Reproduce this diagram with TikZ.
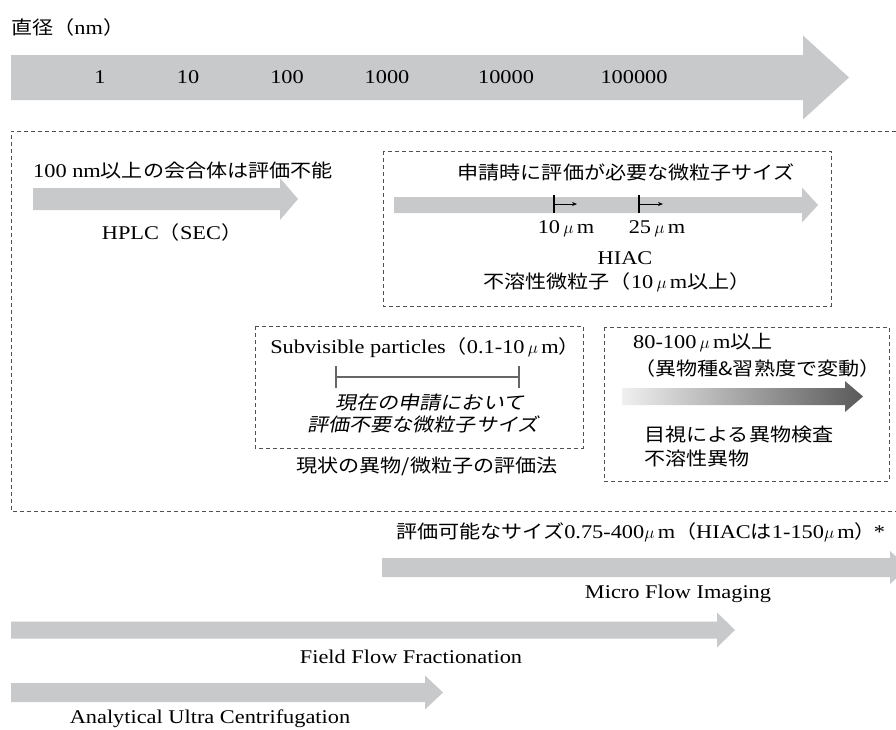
\documentclass[tikz,border=0pt]{standalone}
\usepackage{fontspec}
\setmainfont[Scale=1.05,FakeStretch=1.15]{Liberation Serif}
\newfontfamily\jpf[FakeStretch=1.14]{Noto Sans CJK JP}
\newfontfamily\jpif[FakeStretch=1.14,FakeSlant=0.2]{Noto Sans CJK JP}
\newcommand{\jt}[1]{{\jpf #1}}
\newcommand{\umu}{\,$\mu$\,m}
\newcommand{\umn}{$\mu$\,m}
\usetikzlibrary{arrows.meta}
\definecolor{arrgray}{HTML}{C8C9CB}
\definecolor{dashgray}{HTML}{505050}
\tikzset{
  lbl/.style={inner sep=0pt, font=\fontsize{18.5}{22}\selectfont},
  dbox/.style={draw=dashgray, line width=0.9pt, dash pattern=on 4pt off 3pt},
}
% x1, head start, tip, yc, shaft half, head half
\newcommand{\fatarrow}[6]{\fill[arrgray] (#1,#4-#5) -- (#2,#4-#5) -- (#2,#4-#6) -- (#3,#4) -- (#2,#4+#6) -- (#2,#4+#5) -- (#1,#4+#5) -- cycle;}
\begin{document}
\begin{tikzpicture}[x=1pt,y=-1pt]
\useasboundingbox (0,0) rectangle (896,729);
\fill[white] (0,0) rectangle (896,729);

% title and scale arrow
\node[lbl,anchor=west] (title) at (11,27) {\jt{直径（}nm\jt{）}};
\fatarrow{11}{803}{849}{77.5}{22.5}{42}
\node[lbl] (n1) at (100,77) {1};
\node[lbl] (n10) at (188,77) {10};
\node[lbl] (n100) at (287,77) {100};
\node[lbl] (n1000) at (387,77) {1000};
\node[lbl] (n10000) at (506,77) {10000};
\node[lbl] (n100000) at (634,77) {100000};

% big dashed frame
\draw[dbox] (896,131) -- (11,131) -- (11,511) -- (896,511);

% HPLC
\node[lbl,anchor=west] (hplct) at (33,170) {100 nm\jt{以上の会合体は評価不能}};
\fatarrow{33}{280}{298}{199}{11}{21}
\node[lbl] (hplc) at (172,232) {HPLC\jt{（}SEC\jt{）}};

% HIAC box
\draw[dbox] (383,151) rectangle (831,306);
\node[lbl] (hiact) at (626,172) {\jt{申請時に評価が必要な微粒子サイズ}};
\fatarrow{394}{802}{818}{205}{8}{17.5}
\coordinate (t1a) at (554,195); \coordinate (t1b) at (554,213);
\coordinate (t1s) at (554,204); \coordinate (t1e) at (577,204);
\coordinate (t2a) at (639,195); \coordinate (t2b) at (639,213);
\coordinate (t2s) at (639,204); \coordinate (t2e) at (663,204);
\draw[line width=2.4pt] (t1a) -- (t1b);
\draw[line width=2.4pt] (t2a) -- (t2b);
\draw[line width=0.8pt,-{Stealth[length=5pt,width=4pt]}] (t1s) -- (t1e);
\draw[line width=0.8pt,-{Stealth[length=5pt,width=4pt]}] (t2s) -- (t2e);
\node[lbl] (u10) at (566,229) {10\umu};
\node[lbl] (u25) at (657,229) {25\umu};
\node[lbl] (hiac) at (625,258) {HIAC};
\node[lbl] (hiacs) at (617,282) {\jt{不溶性微粒子（}10\umu\jt{以上）}};

% Subvisible box
\draw[dbox] (255,326) rectangle (583,448);
\node[lbl] (subt) at (425,348) {Subvisible particles\jt{（}0.1-10\umu\jt{）}};
\coordinate (sva) at (336,377); \coordinate (svb) at (519,377);
\draw[gray!80!black,line width=1.1pt] (sva) -- (svb);
\draw[gray!80!black,line width=1.1pt] (336,366) -- (336,388);
\draw[gray!80!black,line width=1.1pt] (519,366) -- (519,388);
\node[lbl] (sv1) at (430,403) {\jpif 現在の申請において};
\node[lbl] (sv2) at (423,424) {\jpif 評価不要な微粒子サイズ};
\node[lbl] (cur) at (427,466) {\jt{現状の異物/微粒子の評価法}};

% visual inspection box
\draw[dbox] (604,327) rectangle (889,481);
\node[lbl,anchor=west] (v1) at (633,343) {80-100\umu\jt{以上}};
\node[lbl,anchor=west] (v2) at (634,368) {\jt{（異物種\&習熟度で変動）}};
\shade[left color=gray!12, right color=black!65] (622,388) -- (845,388) -- (845,381) -- (863,396.5) -- (845,412) -- (845,405) -- (622,405) -- cycle;
\node[lbl,anchor=west] (v3) at (644,435) {\jt{目視による異物検査}};
\node[lbl,anchor=west] (v4) at (644,458) {\jt{不溶性異物}};

% MFI
\node[lbl,anchor=west] (mfit) at (396,532) {\jt{評価可能なサイズ}0.75-400\umn\jt{（}HIAC\jt{は}1-150\umn\jt{）}\kern-2pt*};
\fatarrow{382}{890}{908}{567.5}{9.5}{16.5}
\node[lbl] (mfi) at (678,594) {Micro Flow Imaging};

% FFF
\fatarrow{11}{717}{735}{630}{8.5}{17.5}
\node[lbl] (fff) at (411,657) {Field Flow Fractionation};

% AUC
\fatarrow{11}{425}{443}{692.5}{9.5}{17}
\node[lbl] (auc) at (210,719) {Analytical Ultra Centrifugation};
\end{tikzpicture}
\end{document}
